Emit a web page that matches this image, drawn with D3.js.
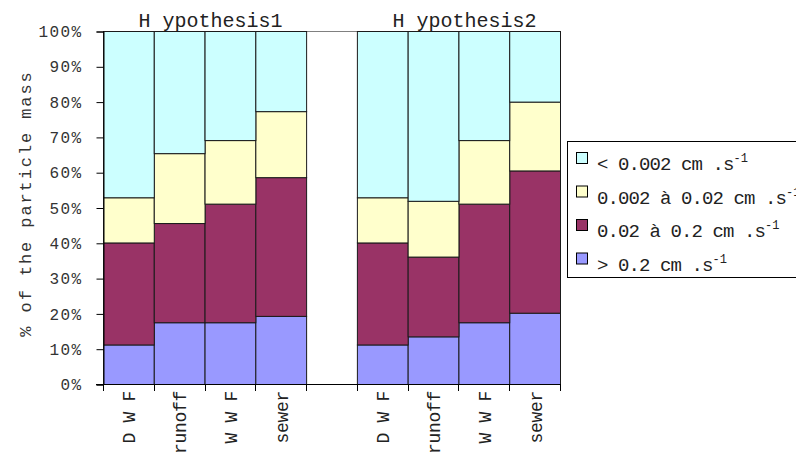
<!DOCTYPE html>
<html>
<head>
<meta charset="utf-8">
<script src="https://cdn.jsdelivr.net/npm/d3@7"></script>
<style>
  html, body { margin: 0; padding: 0; background: #fff; overflow: hidden; }
  svg { display: block; font-family: "Liberation Mono", "DejaVu Sans Mono", monospace; }
</style>
</head>
<body>
<svg id="chart" width="796" height="456"></svg>
<script>
// Settling-velocity classes of the particle mass, per flow type and hypothesis
const groups = ["H ypothesis1", "H ypothesis2"];
const categories = ["D W F", "runoff", "W W F", "sewer"];
const classes = ["> 0.2", "0.02 à 0.2", "0.002 à 0.02", "< 0.002"];
const legendLabels = ["< 0.002 cm .s", "0.002 à 0.02 cm .s", "0.02 à 0.2 cm .s", "> 0.2 cm .s"];
const colors = ["#9999ff", "#993366", "#ffffcc", "#ccffff"];

// percentages, order: H1 DWF, runoff, WWF, sewer, H2 DWF, runoff, WWF, sewer
const above02   = [11.2, 17.5, 17.5, 19.3, 11.2, 13.5, 17.5, 20.2];
const from002   = [28.9, 28.1, 33.6, 39.3, 28.9, 22.6, 33.6, 40.3];
const from0002  = [12.8, 19.8, 18.0, 18.7, 12.8, 15.8, 18.0, 19.5];
const below0002 = [47.1, 34.6, 30.9, 22.7, 47.1, 48.1, 30.9, 20.0];
const yTicks = [0, 10, 20, 30, 40, 50, 60, 70, 80, 90, 100];

const svg = d3.select("#chart");
const plotLeft = 103, plotRight = 560, plotTop = 31, plotBottom = 384;

// one slot per bar plus one empty slot between the two hypotheses
const rows = [];
groups.forEach((g, gi) => categories.forEach((c, ci) => {
  const k = gi * categories.length + ci;
  rows.push({ key: g + "|" + c, group: g, cat: c,
    "> 0.2": above02[k], "0.02 à 0.2": from002[k],
    "0.002 à 0.02": from0002[k], "< 0.002": below0002[k] });
}));
const slots = [];
rows.forEach((r, i) => { if (i === categories.length) slots.push("gap"); slots.push(r.key); });

const x = d3.scaleBand().domain(slots).range([plotLeft, plotRight]).padding(0);
const y = d3.scaleLinear().domain([0, 100]).range([plotBottom, plotTop]);

const stack = d3.stack().keys(classes)(rows);

// top border of the plot area
svg.append("line").attr("x1", plotLeft).attr("x2", plotRight)
  .attr("y1", plotTop + 0.5).attr("y2", plotTop + 0.5)
  .attr("stroke", "#808080").attr("stroke-width", 1);

// stacked bars
svg.append("g").selectAll("g").data(stack).join("g")
  .attr("fill", (d, i) => colors[i])
  .selectAll("rect").data(d => d).join("rect")
  .attr("x", d => x(d.data.key) + 0.5)
  .attr("width", x.bandwidth())
  .attr("y", d => y(d[1]) + 0.5)
  .attr("height", d => y(d[0]) - y(d[1]))
  .attr("stroke", "#1a1a1a").attr("stroke-width", 1);

// y axis
const yAxis = svg.append("g").attr("transform", `translate(${plotLeft + 0.5},0.5)`)
  .call(d3.axisLeft(y).tickValues(yTicks).tickFormat(d => d + "%").tickSize(7).tickPadding(14));
yAxis.select(".domain").attr("stroke", "#000");
yAxis.selectAll(".tick line").attr("stroke", "#000");
yAxis.selectAll("text").attr("font-family", "Liberation Mono, monospace")
  .attr("font-size", 16).attr("letter-spacing", 1.4).attr("fill", "#333");

// x axis with ticks at slot boundaries
const bounds = slots.map(s => x(s)).concat([plotRight]);
const xg = svg.append("g");
xg.append("line").attr("x1", plotLeft - 7).attr("x2", plotRight)
  .attr("y1", plotBottom + 0.5).attr("y2", plotBottom + 0.5).attr("stroke", "#000");
xg.selectAll("line.tk").data(bounds).join("line").attr("class", "tk")
  .attr("x1", d => Math.round(d) + 0.5).attr("x2", d => Math.round(d) + 0.5)
  .attr("y1", plotBottom).attr("y2", plotBottom + 7).attr("stroke", "#000");
xg.selectAll("text").data(rows).join("text")
  .attr("transform", d => `translate(${x(d.key) + x.bandwidth() / 2 + 7},${plotBottom + 7}) rotate(-90)`)
  .attr("text-anchor", "end")
  .attr("font-size", 18).attr("letter-spacing", -0.3).attr("fill", "#222")
  .text(d => d.cat);

// hypothesis titles
svg.selectAll("text.title").data(groups).join("text").attr("class", "title")
  .attr("x", g => {
    const keys = rows.filter(r => r.group === g).map(r => x(r.key));
    return (d3.min(keys) + d3.max(keys) + x.bandwidth()) / 2 + 6;
  })
  .attr("y", 27).attr("text-anchor", "middle")
  .attr("font-size", 20).attr("fill", "#222")
  .text(g => g);

// y axis title
svg.append("text")
  .attr("transform", `translate(31,${(plotTop + plotBottom) / 2 - 4}) rotate(-90)`)
  .attr("text-anchor", "middle")
  .attr("font-size", 17).attr("letter-spacing", 1.9).attr("fill", "#333")
  .text("% of the particle mass");

// legend
const lg = svg.append("g").attr("transform", "translate(567,141)");
lg.append("rect").attr("x", 0.5).attr("y", 0.5).attr("width", 260).attr("height", 136)
  .attr("fill", "#fff").attr("stroke", "#000");
const items = lg.selectAll("g.item").data(legendLabels).join("g").attr("class", "item")
  .attr("transform", (d, i) => `translate(0,${11 + i * 33.5})`);
items.append("rect").attr("x", 9.5).attr("y", 0.5).attr("width", 11).attr("height", 11)
  .attr("fill", (d, i) => colors[colors.length - 1 - i]).attr("stroke", "#000");
const lt = items.append("text").attr("x", 30).attr("y", 18)
  .attr("font-size", 19).attr("letter-spacing", -0.9).attr("fill", "#222");
lt.append("tspan").text(d => d);
lt.append("tspan").attr("dy", -8).attr("font-size", 12).attr("letter-spacing", 0).text("-1");
</script>
</body>
</html>
